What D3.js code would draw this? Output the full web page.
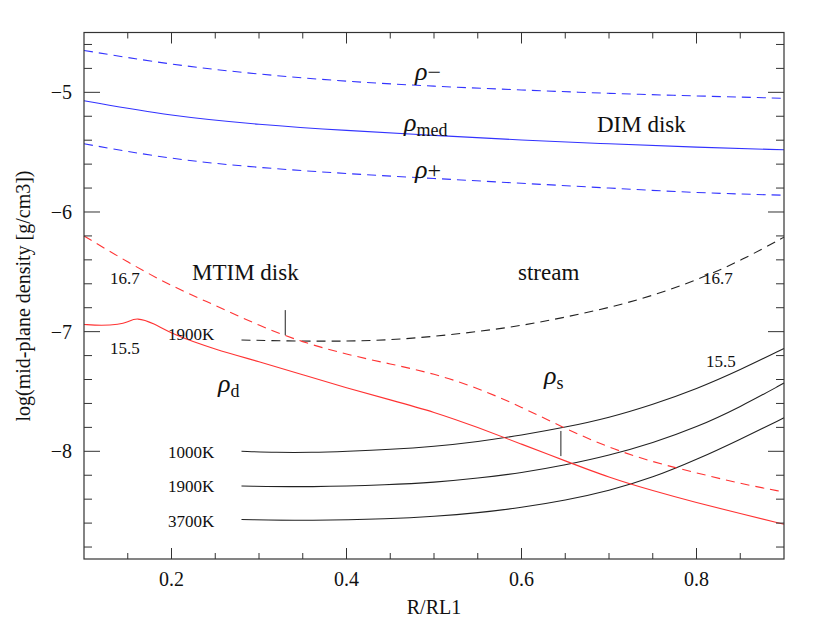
<!DOCTYPE html><html><head><meta charset="utf-8">
<script src="https://cdn.jsdelivr.net/npm/d3@7"></script>
<style>body{margin:0;background:#fff}text{font-family:"Liberation Serif","DejaVu Serif",serif;fill:#111}</style>
</head><body><svg id="c" width="825" height="623"></svg><script>
const xTicks=[0.2,0.4,0.6,0.8];
const yTicks=[-8,-7,-6,-5];
const rhoMinus=[[0.1,-4.65],[0.2,-4.77],[0.3,-4.85],[0.4,-4.91],[0.5,-4.95],[0.6,-4.98],[0.7,-5.01],[0.8,-5.03],[0.9,-5.05]];
const rhoMed=[[0.1,-5.07],[0.2,-5.2],[0.3,-5.27],[0.4,-5.32],[0.5,-5.36],[0.6,-5.40],[0.7,-5.43],[0.8,-5.46],[0.9,-5.48]];
const rhoPlus=[[0.1,-5.43],[0.2,-5.56],[0.3,-5.63],[0.4,-5.68],[0.5,-5.72],[0.6,-5.76],[0.7,-5.80],[0.8,-5.84],[0.9,-5.86]];
const stream=[[0.28,-7.07],[0.35,-7.08],[0.4,-7.08],[0.45,-7.07],[0.5,-7.04],[0.55,-7.0],[0.6,-6.95],[0.65,-6.88],[0.7,-6.80],[0.75,-6.70],[0.8,-6.57],[0.85,-6.41],[0.9,-6.21]];
const s1000=[[0.28,-8.0],[0.32,-8.01],[0.36,-8.01],[0.4,-8.0],[0.45,-7.985],[0.5,-7.96],[0.55,-7.92],[0.6,-7.865],[0.65,-7.8],[0.7,-7.72],[0.75,-7.61],[0.8,-7.48],[0.85,-7.32],[0.9,-7.14]];
const s1900=[[0.28,-8.29],[0.36,-8.30],[0.45,-8.28],[0.5,-8.26],[0.55,-8.225],[0.6,-8.18],[0.65,-8.115],[0.7,-8.035],[0.75,-7.93],[0.8,-7.80],[0.85,-7.63],[0.9,-7.43]];
const s3700=[[0.28,-8.57],[0.36,-8.58],[0.45,-8.565],[0.5,-8.545],[0.55,-8.515],[0.6,-8.47],[0.65,-8.41],[0.7,-8.33],[0.75,-8.22],[0.8,-8.07],[0.85,-7.90],[0.9,-7.72]];
const rhoD=[[0.1,-6.94],[0.12,-6.95],[0.14,-6.94],[0.15,-6.92],[0.16,-6.88],[0.18,-6.93],[0.2,-7.02],[0.25,-7.15],[0.3,-7.25],[0.35,-7.36],[0.4,-7.47],[0.45,-7.57],[0.5,-7.67],[0.55,-7.8],[0.6,-7.94],[0.65,-8.08],[0.7,-8.22],[0.75,-8.33],[0.8,-8.43],[0.85,-8.52],[0.9,-8.61]];
const rhoD167=[[0.1,-6.2],[0.15,-6.42],[0.2,-6.62],[0.25,-6.78],[0.3,-6.95],[0.35,-7.09],[0.4,-7.19],[0.45,-7.27],[0.5,-7.35],[0.55,-7.47],[0.6,-7.63],[0.65,-7.81],[0.7,-7.97],[0.75,-8.09],[0.8,-8.18],[0.85,-8.27],[0.9,-8.34]];
const markers=[[0.33,-6.82,-7.03],[0.645,-7.83,-8.04]];

const svg=d3.select("#c");
const L=84,R=784,T=32.5,B=559;
const x=d3.scaleLinear().domain([0.1,0.9]).range([L,R]);
const y=d3.scaleLinear().domain([-8.9,-4.5]).range([B,T]);
const line=d3.line().x(d=>x(d[0])).y(d=>y(d[1])).curve(d3.curveBasis);
function draw(d,c,dash){svg.append("path").attr("d",line(d)).attr("fill","none").attr("stroke",c).attr("stroke-width",1.1).attr("stroke-dasharray",dash||null);}
const blue="#3333ff",red="#ff3333",blk="#222";
draw(rhoMinus,blue,"9,6");draw(rhoMed,blue);draw(rhoPlus,blue,"9,6");
draw(stream,blk,"9,6");draw(s1000,blk);draw(s1900,blk);draw(s3700,blk);
draw(rhoD,red);draw(rhoD167,red,"9,6");
markers.forEach(m=>svg.append("line").attr("x1",x(m[0])).attr("x2",x(m[0])).attr("y1",y(m[1])).attr("y2",y(m[2])).attr("stroke",blk));
svg.append("rect").attr("x",L).attr("y",T).attr("width",R-L).attr("height",B-T).attr("fill","none").attr("stroke","#333").attr("stroke-width",1.2);
const tk=svg.append("g").attr("stroke","#333");
d3.range(0.15,0.9,0.05).forEach(v=>{const maj=xTicks.some(t=>Math.abs(t-v)<1e-6);const l=maj?11:6;
 tk.append("line").attr("x1",x(v)).attr("x2",x(v)).attr("y1",B).attr("y2",B-l);
 tk.append("line").attr("x1",x(v)).attr("x2",x(v)).attr("y1",T).attr("y2",T+l);});
d3.range(-8.8,-4.55,0.2).forEach(v=>{const maj=yTicks.some(t=>Math.abs(t-v)<1e-6);const l=maj?16:8;
 tk.append("line").attr("x1",L).attr("x2",L+l).attr("y1",y(v)).attr("y2",y(v));
 tk.append("line").attr("x1",R).attr("x2",R-l).attr("y1",y(v)).attr("y2",y(v));});
xTicks.forEach(t=>svg.append("text").attr("x",x(t)).attr("y",B+27).attr("text-anchor","middle").attr("font-size",20).text(t.toFixed(1)));
yTicks.forEach(t=>svg.append("text").attr("x",L-12).attr("y",y(t)+7).attr("text-anchor","end").attr("font-size",20).text("\u2212"+Math.abs(t)));
svg.append("text").attr("x",434).attr("y",614).attr("text-anchor","middle").attr("font-size",20).text("R/RL1");
svg.append("text").attr("transform","translate(30,296) rotate(-90)").attr("text-anchor","middle").attr("font-size",20).text("log(mid-plane density [g/cm3])");
function lab(tx,px,py,fs){svg.append("text").attr("x",px).attr("y",py).attr("font-size",fs||17).text(tx);}
function rho(px,py,sub,inline){const t=svg.append("text").attr("x",px).attr("y",py).attr("font-size",26).attr("font-style","italic");t.append("tspan").text("\u03c1");
 const s=t.append("tspan").attr("font-style","normal");
 if(inline) s.attr("font-size",24).text(sub); else s.attr("font-size",18).attr("dy",5).text(sub);}
rho(415,80,"\u2212",true);rho(404,131,"med");rho(415,178,"+",true);rho(218,392,"d");rho(544,384,"s");
lab("DIM disk",597,132,23);lab("MTIM disk",192,280,23);lab("stream",518,280,23);
lab("16.7",110,284,17);lab("16.7",703,284,17);lab("15.5",110,354,17);lab("15.5",706,367,17);
lab("1900K",168,340,17);lab("1000K",168,458,17);lab("1900K",168,492,17);lab("3700K",168,527,17);
</script></body></html>
